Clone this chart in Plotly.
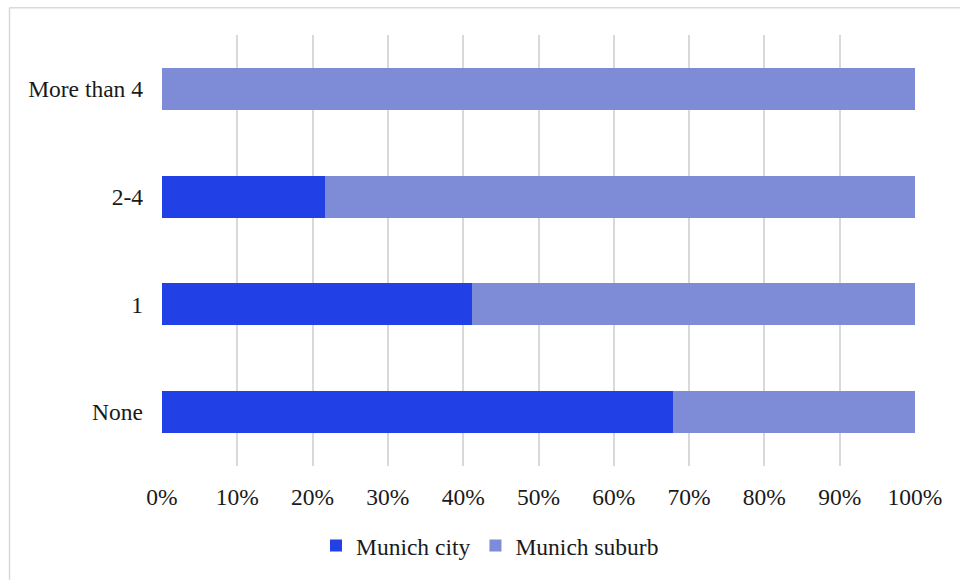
import plotly.graph_objects as go

categories = ["None", "1", "2-4", "More than 4"]
city = [67.8, 41.2, 21.7, 0.0]
suburb = [32.2, 58.8, 78.3, 100.0]
tick_vals = [0, 10, 20, 30, 40, 50, 60, 70, 80, 90, 100]
tick_text = [f"{v}%" for v in tick_vals]

CITY_COLOR = "#2141E6"
SUBURB_COLOR = "#7E8CD8"
FONT = "Liberation Serif"
FS = 23.5

fig = go.Figure()
fig.add_trace(go.Bar(y=categories, x=city, orientation="h", name="Munich city",
                     marker=dict(color=CITY_COLOR, line=dict(width=0))))
fig.add_trace(go.Bar(y=categories, x=suburb, orientation="h", name="Munich suburb",
                     marker=dict(color=SUBURB_COLOR, line=dict(width=0))))

L, R, T, B = 162, 45, 35, 112
W, H = 960, 580
pw, ph = W - L - R, H - T - B

fig.update_layout(
    width=W, height=H,
    barmode="stack", bargap=0.61,
    margin=dict(l=L, r=R, t=T, b=B),
    paper_bgcolor="white", plot_bgcolor="white",
    font=dict(family=FONT, size=FS, color="#1a1a1a"),
    showlegend=True,
    legend=dict(orientation="h", x=(490 - L) / pw, xanchor="center",
                y=(T + ph - 548) / ph, yanchor="middle",
                font=dict(family=FONT, size=FS, color="#1a1a1a"),
                traceorder="normal", itemwidth=30),
    xaxis=dict(range=[0, 100], tickvals=tick_vals, ticktext=tick_text,
               tickfont=dict(family=FONT, size=FS),
               showgrid=True, gridcolor="#d9d9d9", gridwidth=1.5,
               zeroline=False, showline=False, ticks="", ticklabelstandoff=14,
               fixedrange=True),
    yaxis=dict(categoryorder="array", categoryarray=categories,
               tickfont=dict(family=FONT, size=FS),
               showgrid=False, zeroline=False, showline=False, ticks="",
               ticklabelstandoff=18, fixedrange=True),
)

# light frame around the chart (top and left edges)
fx = (9.5 - L) / pw
fy = (T + ph - 7.5) / ph
fig.add_shape(type="line", xref="paper", yref="paper", x0=fx, x1=1.2, y0=fy, y1=fy,
              line=dict(color="#d9d9d9", width=1.5))
fig.add_shape(type="line", xref="paper", yref="paper", x0=fx, x1=fx, y0=fy, y1=-0.4,
              line=dict(color="#d9d9d9", width=1.5))

fig.write_html("out.html", config={"displayModeBar": False})
